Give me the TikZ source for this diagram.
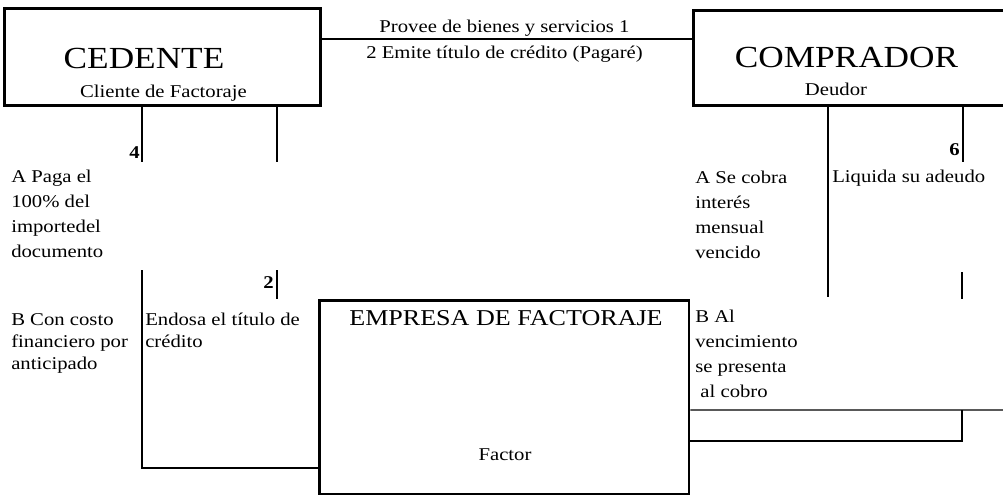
\documentclass[tikz,border=0pt]{standalone}
\usepackage{fontspec}
\setmainfont[FakeStretch=1.15]{Liberation Serif}
\usetikzlibrary{positioning}

\begin{document}
\begin{tikzpicture}[x=0.75pt,y=-0.75pt,
    mybox/.style={draw,line width=2.2pt,inner sep=0pt},
    mytitle/.style={font=\fontsize{23}{28}\selectfont,inner sep=0pt,anchor=base},
    mysub/.style={font=\fontsize{13.5}{18.75}\selectfont,inner sep=0pt,anchor=base},
    mytext/.style={font=\fontsize{13.5}{18.75}\selectfont,inner sep=0pt,align=left,anchor=base west},
    mytight/.style={mytext,font=\fontsize{13.5}{16.5}\selectfont},
    mynum/.style={font=\fontsize{13.5}{18.75}\selectfont\bfseries,inner sep=0pt,anchor=base east},
    mythin/.style={line width=0.9pt},
    mythick/.style={line width=1.9pt}]
      \clip (0,0) rectangle (1003,496);
      % cajas
      \node[mybox,minimum width=237pt,minimum height=72.75pt] (ced) at (162.5,57) {};
      \node[mybox,minimum width=238.9pt,minimum height=71.25pt] (comp) at (852.75,58) {};
      \node[mybox,minimum width=277.1pt,minimum height=145.1pt] (emp) at (504.25,397.25) {};
      \node[mytitle] (cedT) at (144,68) {CEDENTE};
      \node[mysub] (cedS) at (163.5,97) {Cliente de Factoraje};
      \node[mytitle] (compT) at (846.5,67) {COMPRADOR};
      \node[mysub] (compS) at (836,95) {Deudor};
      \node[mytitle,font=\fontsize{17}{20}\selectfont] (empT) at (506,325) {EMPRESA DE FACTORAJE};
      \node[mysub] (empS) at (505,460) {Factor};
      % cedente - comprador
      \draw[line width=1.3pt] ([yshift=13.5pt]ced.east) -- ([yshift=14.25pt]comp.west);
      \node[mysub] (provee) at (504.5,32) {Provee de bienes y servicios 1};
      \node[mysub] (emite) at (504.5,58) {2 Emite título de crédito (Pagaré)};
      % lado izquierdo (anchor base = ultima linea)
      \coordinate (c4) at (142,162);
      \coordinate (c2a) at (277,162);
      \draw[mythin] (c4 |- ced.south) -- (c4);
      \draw[mythick] (c2a |- ced.south) -- (c2a);
      \node[mynum] (n4) at (140,158) {4};
      \coordinate (c4b) at (142,270);
      \coordinate (c2b) at (277,270);
      \draw[mythin] (c4b) |- ([yshift=-53.06pt]emp.west);
      \draw[mythick] (c2b) -- (c2b |- emp.north);
      \node[mynum] (n2) at (274,288) {2};
      \node[mytext] (pagaA) at (11,257) {A Paga el\\100\% del\\importedel\\documento};
      \node[mytight] (costoB) at (11,369) {B Con costo\\financiero por\\anticipado};
      \node[mytight] (endosa) at (145,347) {Endosa el título de\\crédito};
      % lado derecho
      \coordinate (c5) at (828,297);
      \coordinate (c6) at (963,162);
      \coordinate (c6b) at (962,272);
      \draw[mythick] (c5 |- comp.south) -- (c5);
      \draw[mythin] (c6 |- comp.south) -- (c6);
      \draw[mythick] (c6b) -- (c6b |- emp.north);
      \node[mynum] (n6) at (960,155) {6};
      \node[mytext] (cobraA) at (695,258) {A Se cobra\\interés\\mensual\\vencido};
      \node[mytext] (liquida) at (832,182) {Liquida su adeudo};
      \node[mytext] (alB) at (695,397) {B Al\\vencimiento\\se presenta\\\ al cobro};
      \coordinate (c7) at (1010,410);
      \coordinate (c8) at (962,410);
      \draw[mythin] ([yshift=-9.56pt]emp.east) -- (c7);
      \draw[mythin] ([yshift=-32.81pt]emp.east) -| (c8);
\end{tikzpicture}
\end{document}
